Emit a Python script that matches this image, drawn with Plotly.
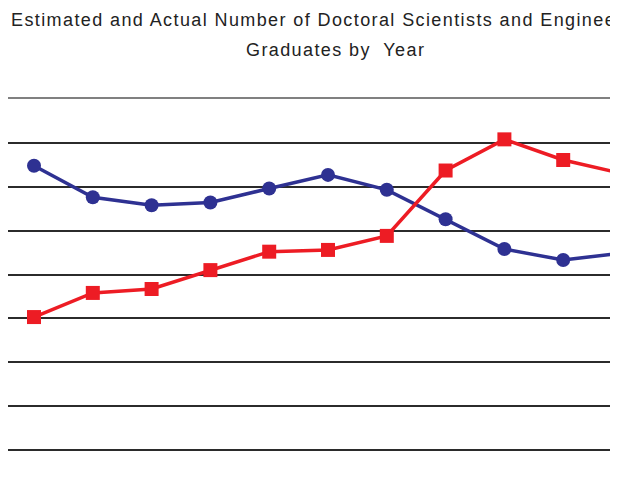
import plotly.graph_objects as go

AZUL = "#2e3192"
VERMELHO = "#ed1c24"

anos = [2000, 2001, 2002, 2003, 2004, 2005, 2006, 2007, 2008, 2009, 2010]
estimado = [6480, 5760, 5580, 5640, 5960, 6270, 5930, 5260, 4580, 4330, 4490]
real = [3030, 3580, 3670, 4100, 4520, 4560, 4880, 6370, 7080, 6610, 6300]
grade_y = [0, 1000, 2000, 3000, 4000, 5000, 6000, 7000]

titulo_1 = "Estimated and Actual Number of Doctoral Scientists and Engineers"
titulo_2 = "Graduates by  Year"

FONTE = "Liberation Sans, Arial, sans-serif"
ESPACO = '<span style="letter-spacing:1.4px">{}</span>'

fig = go.Figure()
fig.add_trace(
    go.Scatter(
        x=anos,
        y=estimado,
        mode="lines+markers",
        name="Estimated",
        line=dict(color=AZUL, width=3.5),
        marker=dict(symbol="circle", size=14, color=AZUL),
    )
)
fig.add_trace(
    go.Scatter(
        x=anos,
        y=real,
        mode="lines+markers",
        name="Actual",
        line=dict(color=VERMELHO, width=3.5),
        marker=dict(symbol="square", size=14, color=VERMELHO),
    )
)

# a pagina tem margem de 8px no body, por isso a figura e um pouco menor
fig.update_layout(
    width=610,
    height=482,
    margin=dict(l=0, r=4, t=91, b=30),
    paper_bgcolor="#ffffff",
    plot_bgcolor="#ffffff",
    showlegend=False,
    font=dict(family=FONTE, color="#222222"),
)
fig.add_annotation(
    text=ESPACO.format(titulo_1),
    xref="paper", yref="paper", x=1 / 606, y=(460 - 20.5) / 361,
    xanchor="left", yanchor="middle", showarrow=False,
    font=dict(size=18, family=FONTE, color="#222222"),
)
fig.add_annotation(
    text=ESPACO.format(titulo_2),
    xref="paper", yref="paper", x=(335 - 8) / 606, y=(460 - 49.5) / 361,
    xanchor="center", yanchor="middle", showarrow=False,
    font=dict(size=18, family=FONTE, color="#222222"),
)
fig.update_xaxes(
    range=[anos[0] - 26 / 58.8, anos[0] + 580 / 58.8],
    side="top",
    showline=True,
    linecolor="#808080",
    linewidth=2,
    showgrid=False,
    zeroline=False,
    showticklabels=False,
    ticks="",
)
fig.update_yaxes(
    range=[-228, 8000],
    tickvals=grade_y,
    showgrid=True,
    gridcolor="#2b2b2b",
    gridwidth=1.6,
    zeroline=False,
    showline=False,
    showticklabels=False,
    ticks="",
)

fig.write_html("out.html")
